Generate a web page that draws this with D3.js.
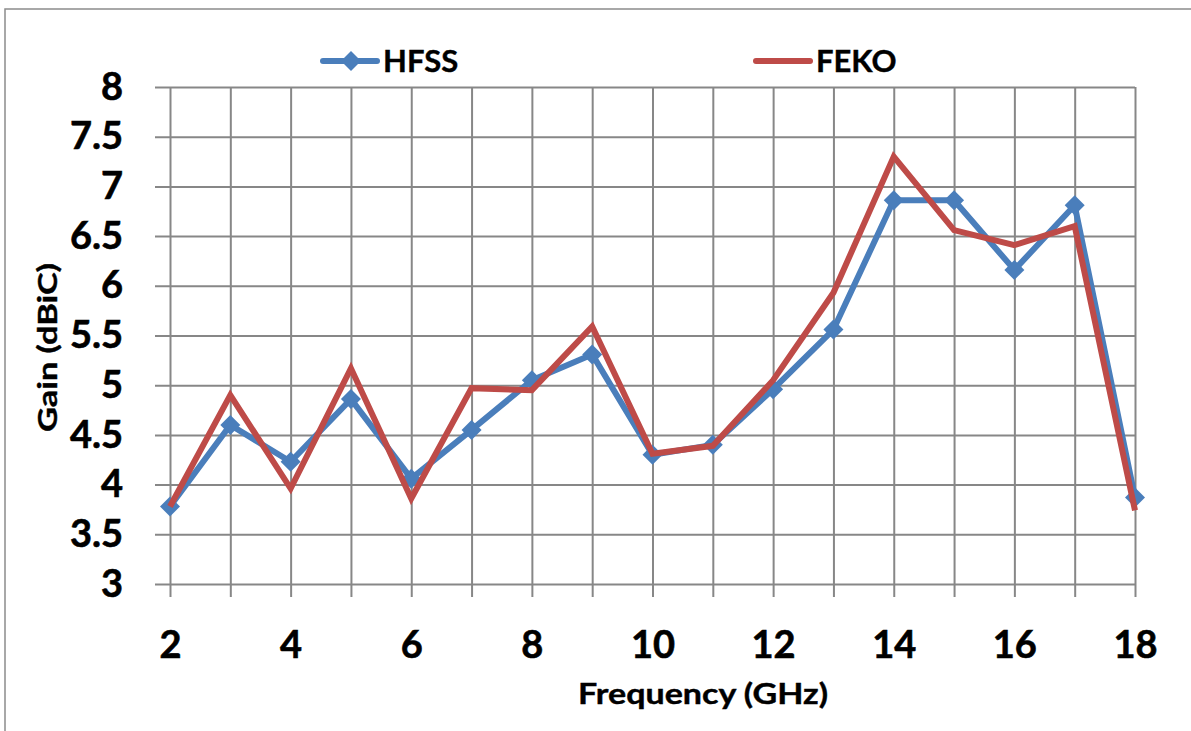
<!DOCTYPE html>
<html>
<head>
<meta charset="utf-8">
<script src="https://cdn.jsdelivr.net/npm/d3@7"></script>
<style>
  body { margin: 0; background: #fff; }
  svg text { font-family: Lato, "Open Sans", sans-serif; font-weight: bold; fill: #000; }
</style>
</head>
<body>
<div class="canvas"></div>
<script>
// chart data
const freq = [2, 3, 4, 5, 6, 7, 8, 9, 10, 11, 12, 13, 14, 15, 16, 17, 18];
const hfss = [3.78, 4.6, 4.23, 4.86, 4.06, 4.55, 5.05, 5.31, 4.3, 4.4, 4.96, 5.56, 6.86, 6.86, 6.16, 6.81, 3.87];
const feko = [3.78, 4.9, 3.96, 5.17, 3.86, 4.97, 4.95, 5.59, 4.31, 4.39, 5.05, 5.93, 7.3, 6.56, 6.41, 6.6, 3.74];
const xTicks = [2, 4, 6, 8, 10, 12, 14, 16, 18];
const yTicks = [3, 3.5, 4, 4.5, 5, 5.5, 6, 6.5, 7, 7.5, 8];
const seriesNames = ['HFSS', 'FEKO'];

const W = 1191, H = 731;
const svg = d3.select('.canvas')
    .append('svg')
    .attr('width', W)
    .attr('height', H);

// outer frame (only left/top visible in the picture)
svg.append('rect')
    .attr('x', 5).attr('y', 9)
    .attr('width', W + 20).attr('height', H + 20)
    .attr('fill', 'none')
    .attr('stroke', '#8c8c8c')
    .attr('stroke-width', 1.5);

const plot = { left: 170, right: 1135, top: 87, bottom: 584 };

const x = d3.scaleLinear().domain([2, 18]).range([plot.left, plot.right]);
const y = d3.scaleLinear().domain([3, 8]).range([plot.bottom, plot.top]);

const gridColor = '#878787';

// vertical grid + x labels
const xAxisGroup = svg.append('g')
    .attr('transform', `translate(0, ${plot.bottom + 13})`)
    .call(d3.axisBottom(x)
        .tickValues(d3.range(2, 19, 1))
        .tickSize(-(plot.bottom + 13 - plot.top))
        .tickPadding(34)
        .tickFormat(d => xTicks.includes(d) ? d : ''));
xAxisGroup.select('.domain').remove();
xAxisGroup.selectAll('line').attr('stroke', gridColor).attr('stroke-width', 2);
xAxisGroup.selectAll('text')
    .attr('font-size', 38)
    .attr('font-family', 'Lato, sans-serif')
    .attr('font-weight', 'bold')
    .attr('fill', '#000')
    .attr('stroke', '#000')
    .attr('stroke-width', 0.6);

// horizontal grid + y labels
const yAxisGroup = svg.append('g')
    .attr('transform', `translate(${plot.left - 15}, 0)`)
    .call(d3.axisLeft(y)
        .tickValues(yTicks)
        .tickSize(-(plot.right - plot.left + 15))
        .tickPadding(32)
        .tickFormat(d => d));
yAxisGroup.select('.domain').remove();
yAxisGroup.selectAll('line').attr('stroke', gridColor).attr('stroke-width', 2);
yAxisGroup.selectAll('text')
    .attr('font-size', 38)
    .attr('font-family', 'Lato, sans-serif')
    .attr('font-weight', 'bold')
    .attr('fill', '#000')
    .attr('stroke', '#000')
    .attr('stroke-width', 0.6);

// series
const blue = '#4a7ebb', red = '#be4b48';
const line = d3.line().x((d, i) => x(freq[i])).y(d => y(d));

svg.append('path')
    .datum(hfss)
    .attr('d', line)
    .attr('fill', 'none')
    .attr('stroke', blue)
    .attr('stroke-width', 6)
    .attr('stroke-linejoin', 'round');

const diamond = d3.symbol(d3.symbolSquare, 200);
svg.selectAll('.marker')
    .data(hfss)
    .enter()
    .append('path')
    .attr('class', 'marker')
    .attr('d', diamond)
    .attr('fill', blue)
    .attr('transform', (d, i) => `translate(${x(freq[i])}, ${y(d)}) rotate(45)`);

svg.append('path')
    .datum(feko)
    .attr('d', line)
    .attr('fill', 'none')
    .attr('stroke', red)
    .attr('stroke-width', 6)
    .attr('stroke-linejoin', 'miter');

// legend
const legend = [
    { name: seriesNames[0], color: blue, x0: 323, marker: true },
    { name: seriesNames[1], color: red, x0: 756, marker: false }
];
legend.forEach(l => {
    const g = svg.append('g');
    g.append('line')
        .attr('x1', l.x0).attr('x2', l.x0 + 54)
        .attr('y1', 61).attr('y2', 61)
        .attr('stroke', l.color)
        .attr('stroke-width', 6)
        .attr('stroke-linecap', 'round');
    if (l.marker) {
        g.append('path')
            .attr('d', diamond)
            .attr('fill', l.color)
            .attr('transform', `translate(${l.x0 + 28}, 61) rotate(45)`);
    }
    g.append('text')
        .attr('x', l.x0 + 60)
        .attr('y', 72)
        .attr('font-size', 31)
        .attr('stroke', '#000')
        .attr('stroke-width', 0.4)
        .text(l.name);
});

// axis titles
svg.append('text')
    .attr('x', 578)
    .attr('y', 704)
    .attr('font-size', 28)
    .attr('textLength', 250)
    .attr('lengthAdjust', 'spacingAndGlyphs')
    .attr('stroke', '#000')
    .attr('stroke-width', 0.4)
    .text('Frequency (GHz)');

svg.append('text')
    .attr('transform', 'translate(57, 432) rotate(-90)')
    .attr('font-size', 27)
    .attr('textLength', 169)
    .attr('lengthAdjust', 'spacingAndGlyphs')
    .attr('stroke', '#000')
    .attr('stroke-width', 0.4)
    .text('Gain (dBiC)');
</script>
</body>
</html>
